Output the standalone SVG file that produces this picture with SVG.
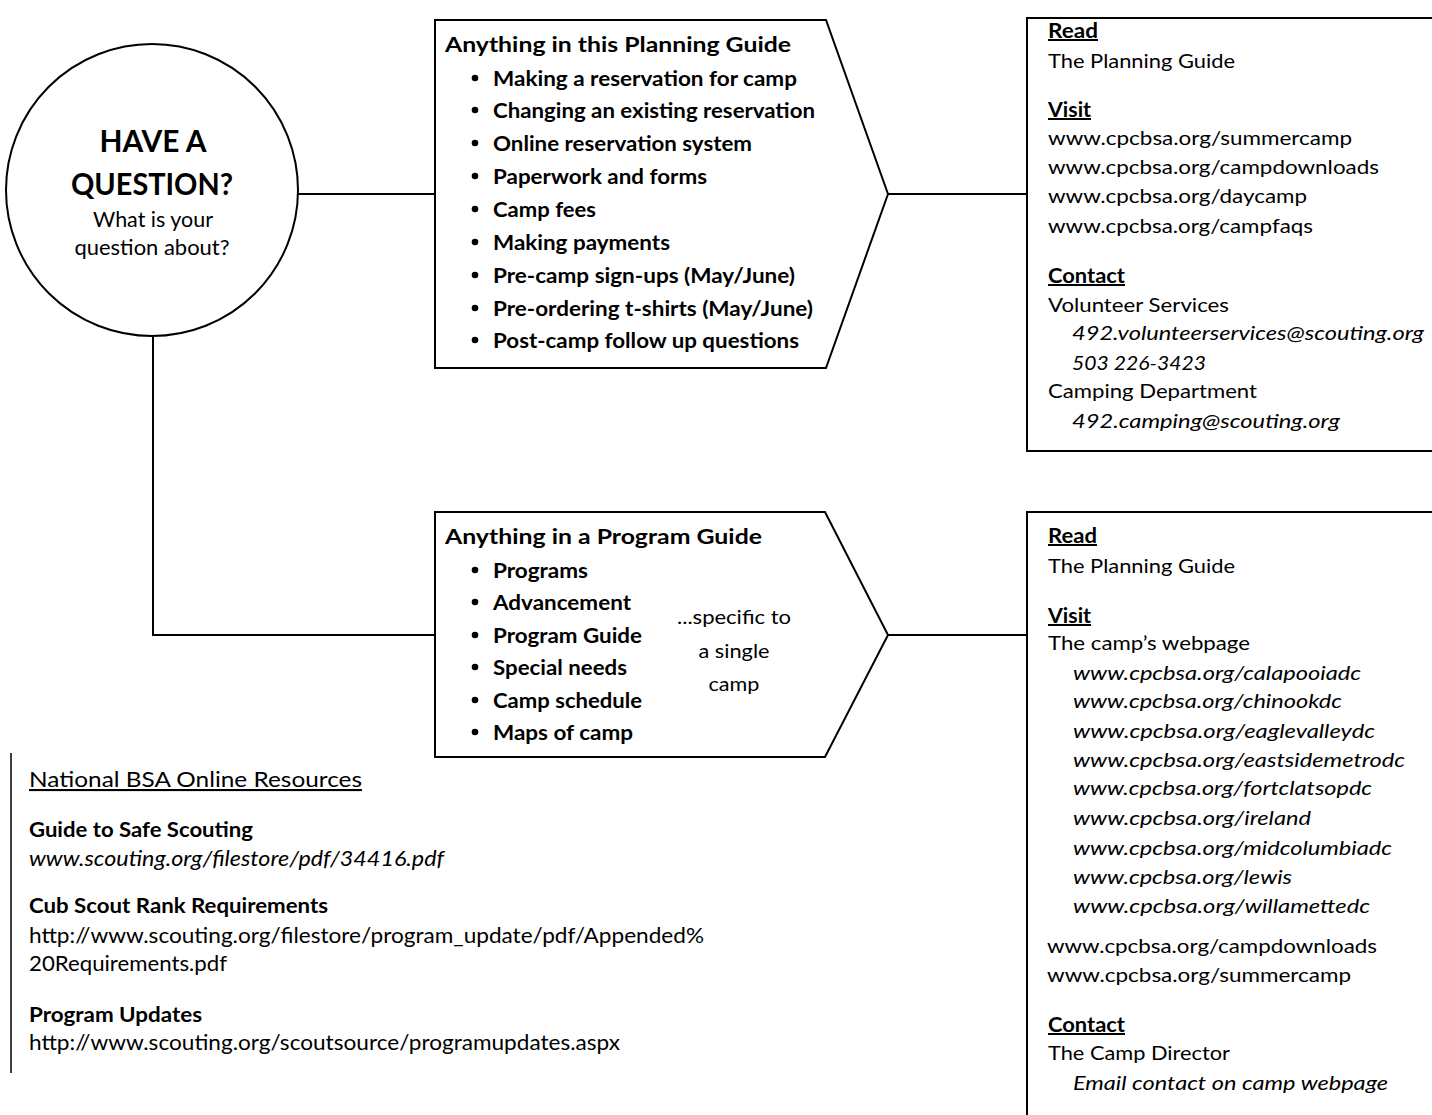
<svg xmlns="http://www.w3.org/2000/svg" width="1432" height="1115" viewBox="0 0 1432 1115">
<style>
  text { font-family: Lato, "Open Sans", "Liberation Sans", sans-serif; font-size: 20px; fill: #000; }
  .b { font-weight: bold; }
  .i { font-style: italic; }
  .u { text-decoration: underline; }
  .big { font-size: 31px; font-weight: bold; }
  .mid { font-size: 21px; }
  .nat { font-size: 21px; }
  .shape { fill: #fff; stroke: #000; stroke-width: 2; }
  .conn { fill: none; stroke: #000; stroke-width: 2; }
  .dot { fill: #000; }
</style>
<rect x="0" y="0" width="1432" height="1115" fill="#fff"/>

<g id="connectors">
  <line class="conn" x1="297" y1="194" x2="435" y2="194"/>
  <polyline class="conn" points="153,336 153,635 435,635"/>
  <line class="conn" x1="888" y1="194" x2="1027" y2="194"/>
  <line class="conn" x1="888" y1="635" x2="1027" y2="635"/>
</g>

<g id="node-question">
  <circle class="shape" cx="152" cy="190" r="146"/>
  <text class="big" x="153" y="152" text-anchor="middle" textLength="107" lengthAdjust="spacingAndGlyphs">HAVE A</text>
  <text class="big" x="152" y="195" text-anchor="middle" textLength="162" lengthAdjust="spacingAndGlyphs">QUESTION?</text>
  <text class="mid" x="153" y="227" text-anchor="middle" textLength="120" lengthAdjust="spacingAndGlyphs">What is your</text>
  <text class="mid" x="152" y="255" text-anchor="middle" textLength="155" lengthAdjust="spacingAndGlyphs">question about?</text>
</g>

<g id="node-planning-guide">
  <polygon class="shape" points="435,20 826,20 888,194 826,368 435,368"/>
  <text class="b" x="445" y="52" textLength="346" lengthAdjust="spacingAndGlyphs">Anything in this Planning Guide</text>
  <circle class="dot" cx="475" cy="78" r="3.3"/>
  <text class="b" x="493" y="86" textLength="304" lengthAdjust="spacingAndGlyphs">Making a reservation for camp</text>
  <circle class="dot" cx="475" cy="110" r="3.3"/>
  <text class="b" x="493" y="118" textLength="322" lengthAdjust="spacingAndGlyphs">Changing an existing reservation</text>
  <circle class="dot" cx="475" cy="143" r="3.3"/>
  <text class="b" x="493" y="151" textLength="259" lengthAdjust="spacingAndGlyphs">Online reservation system</text>
  <circle class="dot" cx="475" cy="176" r="3.3"/>
  <text class="b" x="493" y="184" textLength="214" lengthAdjust="spacingAndGlyphs">Paperwork and forms</text>
  <circle class="dot" cx="475" cy="209" r="3.3"/>
  <text class="b" x="493" y="217" textLength="103" lengthAdjust="spacingAndGlyphs">Camp fees</text>
  <circle class="dot" cx="475" cy="242" r="3.3"/>
  <text class="b" x="493" y="250" textLength="177" lengthAdjust="spacingAndGlyphs">Making payments</text>
  <circle class="dot" cx="475" cy="275" r="3.3"/>
  <text class="b" x="493" y="283" textLength="302" lengthAdjust="spacingAndGlyphs">Pre-camp sign-ups (May/June)</text>
  <circle class="dot" cx="475" cy="308" r="3.3"/>
  <text class="b" x="493" y="316" textLength="320" lengthAdjust="spacingAndGlyphs">Pre-ordering t-shirts (May/June)</text>
  <circle class="dot" cx="475" cy="340" r="3.3"/>
  <text class="b" x="493" y="348" textLength="306" lengthAdjust="spacingAndGlyphs">Post-camp follow up questions</text>
</g>

<g id="node-program-guide">
  <polygon class="shape" points="435,512 825,512 888,635 825,757 435,757"/>
  <text class="b" x="445" y="544" textLength="317" lengthAdjust="spacingAndGlyphs">Anything in a Program Guide</text>
  <circle class="dot" cx="475" cy="570" r="3.3"/>
  <text class="b" x="493" y="578" textLength="95" lengthAdjust="spacingAndGlyphs">Programs</text>
  <circle class="dot" cx="475" cy="602" r="3.3"/>
  <text class="b" x="493" y="610" textLength="138" lengthAdjust="spacingAndGlyphs">Advancement</text>
  <circle class="dot" cx="475" cy="635" r="3.3"/>
  <text class="b" x="493" y="643" textLength="149" lengthAdjust="spacingAndGlyphs">Program Guide</text>
  <circle class="dot" cx="475" cy="667" r="3.3"/>
  <text class="b" x="493" y="675" textLength="134" lengthAdjust="spacingAndGlyphs">Special needs</text>
  <circle class="dot" cx="475" cy="700" r="3.3"/>
  <text class="b" x="493" y="708" textLength="149" lengthAdjust="spacingAndGlyphs">Camp schedule</text>
  <circle class="dot" cx="475" cy="732" r="3.3"/>
  <text class="b" x="493" y="740" textLength="140" lengthAdjust="spacingAndGlyphs">Maps of camp</text>
  <text x="734" y="624" text-anchor="middle" textLength="114" lengthAdjust="spacingAndGlyphs">...specific to</text>
  <text x="734" y="658" text-anchor="middle" textLength="71" lengthAdjust="spacingAndGlyphs">a single</text>
  <text x="734" y="691" text-anchor="middle" textLength="51" lengthAdjust="spacingAndGlyphs">camp</text>
</g>

<g id="node-planning-resources">
  <rect class="shape" x="1027" y="18" width="420" height="433"/>
  <text class="b u" x="1048" y="38" textLength="50" lengthAdjust="spacingAndGlyphs">Read</text>
  <text x="1048" y="68" textLength="187" lengthAdjust="spacingAndGlyphs">The Planning Guide</text>
  <text class="b u" x="1048" y="117" textLength="43" lengthAdjust="spacingAndGlyphs">Visit</text>
  <text x="1048" y="145" textLength="304" lengthAdjust="spacingAndGlyphs">www.cpcbsa.org/summercamp</text>
  <text x="1048" y="174" textLength="331" lengthAdjust="spacingAndGlyphs">www.cpcbsa.org/campdownloads</text>
  <text x="1048" y="203" textLength="259" lengthAdjust="spacingAndGlyphs">www.cpcbsa.org/daycamp</text>
  <text x="1048" y="233" textLength="265" lengthAdjust="spacingAndGlyphs">www.cpcbsa.org/campfaqs</text>
  <text class="b u" x="1048" y="283" textLength="77" lengthAdjust="spacingAndGlyphs">Contact</text>
  <text x="1048" y="312" textLength="181" lengthAdjust="spacingAndGlyphs">Volunteer Services</text>
  <text class="i" x="1072" y="340" textLength="352" lengthAdjust="spacingAndGlyphs">492.volunteerservices@scouting.org</text>
  <text class="i" x="1072" y="370" textLength="134" lengthAdjust="spacingAndGlyphs">503 226-3423</text>
  <text x="1048" y="398" textLength="209" lengthAdjust="spacingAndGlyphs">Camping Department</text>
  <text class="i" x="1072" y="428" textLength="268" lengthAdjust="spacingAndGlyphs">492.camping@scouting.org</text>
</g>

<g id="node-program-resources">
  <rect class="shape" x="1027" y="512" width="420" height="620"/>
  <text class="b u" x="1048" y="543" textLength="49" lengthAdjust="spacingAndGlyphs">Read</text>
  <text x="1048" y="573" textLength="187" lengthAdjust="spacingAndGlyphs">The Planning Guide</text>
  <text class="b u" x="1048" y="623" textLength="43" lengthAdjust="spacingAndGlyphs">Visit</text>
  <text x="1048" y="650" textLength="202" lengthAdjust="spacingAndGlyphs">The camp’s webpage</text>
  <text class="i" x="1073" y="680" textLength="288" lengthAdjust="spacingAndGlyphs">www.cpcbsa.org/calapooiadc</text>
  <text class="i" x="1073" y="708" textLength="269" lengthAdjust="spacingAndGlyphs">www.cpcbsa.org/chinookdc</text>
  <text class="i" x="1073" y="738" textLength="302" lengthAdjust="spacingAndGlyphs">www.cpcbsa.org/eaglevalleydc</text>
  <text class="i" x="1073" y="767" textLength="332" lengthAdjust="spacingAndGlyphs">www.cpcbsa.org/eastsidemetrodc</text>
  <text class="i" x="1073" y="795" textLength="299" lengthAdjust="spacingAndGlyphs">www.cpcbsa.org/fortclatsopdc</text>
  <text class="i" x="1073" y="825" textLength="238" lengthAdjust="spacingAndGlyphs">www.cpcbsa.org/ireland</text>
  <text class="i" x="1073" y="855" textLength="319" lengthAdjust="spacingAndGlyphs">www.cpcbsa.org/midcolumbiadc</text>
  <text class="i" x="1073" y="884" textLength="219" lengthAdjust="spacingAndGlyphs">www.cpcbsa.org/lewis</text>
  <text class="i" x="1073" y="913" textLength="297" lengthAdjust="spacingAndGlyphs">www.cpcbsa.org/willamettedc</text>
  <text x="1047" y="953" textLength="330" lengthAdjust="spacingAndGlyphs">www.cpcbsa.org/campdownloads</text>
  <text x="1047" y="982" textLength="304" lengthAdjust="spacingAndGlyphs">www.cpcbsa.org/summercamp</text>
  <text class="b u" x="1048" y="1032" textLength="77" lengthAdjust="spacingAndGlyphs">Contact</text>
  <text x="1048" y="1060" textLength="182" lengthAdjust="spacingAndGlyphs">The Camp Director</text>
  <text class="i" x="1073" y="1090" textLength="315" lengthAdjust="spacingAndGlyphs">Email contact on camp webpage</text>
</g>

<g id="node-national-resources">
  <line x1="11" y1="753" x2="11" y2="1073" stroke="#000" stroke-width="1.5"/>
  <text class="nat u" x="29" y="787" textLength="333" lengthAdjust="spacingAndGlyphs">National BSA Online Resources</text>
  <text class="nat b" x="29" y="837" textLength="224" lengthAdjust="spacingAndGlyphs">Guide to Safe Scouting</text>
  <text class="nat i" x="29" y="866" textLength="415" lengthAdjust="spacingAndGlyphs">www.scouting.org/filestore/pdf/34416.pdf</text>
  <text class="nat b" x="29" y="913" textLength="299" lengthAdjust="spacingAndGlyphs">Cub Scout Rank Requirements</text>
  <text class="nat" x="29" y="943" textLength="675" lengthAdjust="spacingAndGlyphs">http://www.scouting.org/filestore/program_update/pdf/Appended%</text>
  <text class="nat" x="29" y="971" textLength="198" lengthAdjust="spacingAndGlyphs">20Requirements.pdf</text>
  <text class="nat b" x="29" y="1022" textLength="173" lengthAdjust="spacingAndGlyphs">Program Updates</text>
  <text class="nat" x="29" y="1050" textLength="591" lengthAdjust="spacingAndGlyphs">http://www.scouting.org/scoutsource/programupdates.aspx</text>
</g>
</svg>
